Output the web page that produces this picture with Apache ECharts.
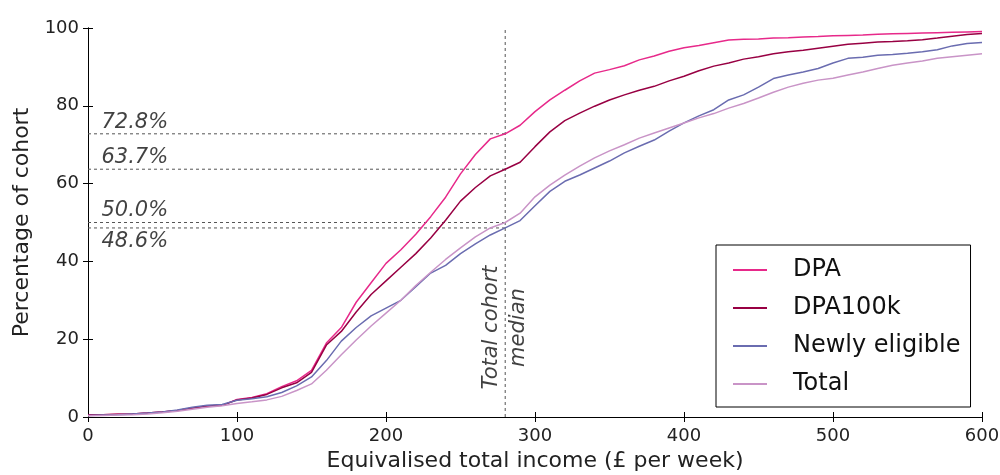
<!DOCTYPE html>
<html>
<head>
<meta charset="utf-8">
<script src="https://cdn.jsdelivr.net/npm/echarts@6/dist/echarts.min.js"></script>
<style>
  html, body { margin: 0; padding: 0; background: #fff; }
  #chart { width: 1000px; height: 475px; }
</style>
</head>
<body>
<div id="chart"></div>
<script>
// income (£ per week)
var income = [0, 10, 20, 30, 40, 50, 60, 70, 80, 90, 100, 110, 120, 130, 140, 150, 160, 170, 180, 190,
  200, 210, 220, 230, 240, 250, 260, 270, 280, 290, 300, 310, 320, 330, 340, 350, 360, 370, 380, 390,
  400, 410, 420, 430, 440, 450, 460, 470, 480, 490, 500, 510, 520, 530, 540, 550, 560, 570, 580, 590, 600];

// cumulative % of cohort
var dpa = [0.5, 0.6, 0.7, 0.8, 1.0, 1.3, 1.7, 2.3, 2.8, 3.0, 4.5, 5.0, 6.0, 7.8, 9.3, 12.0, 19.0, 23.0, 29.5, 34.5,
  39.5, 43.0, 47.0, 51.5, 56.5, 62.5, 67.5, 71.5, 72.8, 75.0, 78.5, 81.5, 84.0, 86.4, 88.4, 89.3, 90.3, 91.8, 92.8, 94.0,
  94.9, 95.5, 96.2, 96.9, 97.1, 97.2, 97.4, 97.5, 97.7, 97.8, 98.0, 98.1, 98.2, 98.4, 98.5, 98.6, 98.7, 98.8, 98.9, 99.0, 99.1];
var dpa100k = [0.5, 0.6, 0.7, 0.8, 1.0, 1.3, 1.7, 2.3, 2.8, 3.0, 4.4, 4.9, 5.8, 7.5, 8.8, 11.5, 18.5, 22.0, 27.0, 31.5,
  35.0, 38.5, 42.0, 46.0, 50.6, 55.5, 59.0, 62.0, 63.7, 65.5, 69.5, 73.3, 76.2, 78.1, 79.9, 81.5, 82.8, 84.0, 85.0, 86.4,
  87.6, 89.0, 90.2, 91.0, 92.0, 92.6, 93.4, 93.9, 94.3, 94.8, 95.3, 95.8, 96.1, 96.4, 96.5, 96.7, 97.0, 97.4, 97.9, 98.3, 98.6];
var newlyEligible = [0.4, 0.5, 0.6, 0.8, 1.0, 1.3, 1.8, 2.5, 3.0, 3.2, 4.3, 4.7, 5.2, 6.3, 8.0, 10.3, 14.5, 19.5, 23.0, 26.0,
  28.0, 30.0, 33.5, 37.0, 39.0, 42.0, 44.5, 46.8, 48.6, 50.5, 54.3, 58.0, 60.6, 62.2, 64.0, 65.8, 67.9, 69.6, 71.2, 73.5,
  75.6, 77.4, 79.0, 81.5, 82.8, 84.8, 87.0, 87.9, 88.7, 89.6, 91.0, 92.2, 92.5, 93.0, 93.2, 93.5, 93.9, 94.4, 95.4, 96.0, 96.3];
var total = [0.3, 0.4, 0.5, 0.6, 0.8, 1.1, 1.5, 2.0, 2.5, 2.9, 3.5, 3.9, 4.4, 5.3, 6.8, 8.5, 12.0, 16.0, 19.8, 23.4,
  26.7, 30.0, 33.8, 37.2, 40.5, 43.5, 46.3, 48.6, 50.0, 52.4, 56.6, 59.6, 62.2, 64.5, 66.6, 68.4, 70.0, 71.7, 73.0, 74.3,
  75.6, 76.9, 78.0, 79.4, 80.6, 82.0, 83.5, 84.8, 85.8, 86.6, 87.1, 87.9, 88.7, 89.6, 90.4, 91.0, 91.5, 92.2, 92.6, 93.0, 93.4];

var seriesNames = ['DPA', 'DPA100k', 'Newly eligible', 'Total'];
var seriesColors = ['#e7298a', '#980043', '#6a6cb0', '#c994c7'];

// median line and the shares below it
var medianIncome = 280;
var medianShares = [72.8, 63.7, 50.0, 48.6];
var shareLabelAbove = [true, true, true, false];

var xTicks = [0, 100, 200, 300, 400, 500, 600];
var yTicks = [0, 20, 40, 60, 80, 100];

function pair(xs, ys) {
  return xs.map(function (x, i) { return [x, ys[i]]; });
}

var font = 'DejaVu Sans';
var dashStyle = { color: '#555', width: 1, type: [3, 3] };

var series = [];
[dpa, dpa100k, newlyEligible, total].forEach(function (vals, i) {
  series.push({
    name: seriesNames[i],
    type: 'line',
    data: pair(income, vals),
    showSymbol: false,
    symbol: 'none',
    lineStyle: { width: 1.5, color: seriesColors[i] },
    itemStyle: { color: seriesColors[i] },
    z: 3
  });
});

// dashed guide lines
medianShares.forEach(function (s) {
  series.push({
    type: 'line', silent: true, symbol: 'none',
    data: [[xTicks[0], s], [medianIncome, s]],
    lineStyle: dashStyle, z: 2
  });
});
series.push({
  type: 'line', silent: true, symbol: 'none',
  data: [[medianIncome, yTicks[0]], [medianIncome, yTicks[yTicks.length - 1]]],
  lineStyle: dashStyle, z: 2
});

// share labels
series.push({
  type: 'scatter', silent: true, symbolSize: 0,
  data: medianShares.map(function (s, i) {
    return {
      value: [9, s],
      label: {
        position: shareLabelAbove[i] ? 'top' : 'bottom',
        distance: shareLabelAbove[i] ? 1 : 3
      }
    };
  }),
  label: {
    show: true, align: 'left',
    fontFamily: font, fontStyle: 'italic', fontSize: 21, color: '#111',
    formatter: function (p) { return p.value[1].toFixed(1) + '%'; }
  },
  z: 4
});

// median label
series.push({
  type: 'scatter', silent: true, symbolSize: 0,
  data: [[medianIncome, 23]],
  label: {
    show: true, position: 'inside', rotate: 90,
    align: 'center', verticalAlign: 'middle',
    fontFamily: font, fontStyle: 'italic', fontSize: 21, lineHeight: 27, color: '#111',
    formatter: 'Total cohort\nmedian'
  },
  z: 4
});

var axisLineStyle = { lineStyle: { color: '#000', width: 1 } };
var tickStyle = { show: true, inside: true, length: 5, lineStyle: { color: '#000', width: 1 } };

var chart = echarts.init(document.getElementById('chart'), null, { renderer: 'canvas' });
chart.setOption({
  animation: false,
  backgroundColor: '#fff',
  grid: { left: 88, right: 18, top: 28, bottom: 58, outerBoundsMode: 'none', containLabel: false },
  legend: {
    data: seriesNames,
    orient: 'vertical',
    left: 716, top: 245,
    padding: [13, 10, 11, 17],
    itemGap: 14,
    itemWidth: 34, itemHeight: 2,
    icon: 'rect',
    borderColor: '#000', borderWidth: 1,
    backgroundColor: '#fff',
    textStyle: { fontFamily: font, fontSize: 24, color: '#111', lineHeight: 22, padding: [0, 0, 0, 21] }
  },
  xAxis: [{
    type: 'value', min: 0, max: 600, interval: 100, position: 'bottom',
    name: 'Equivalised total income (£ per week)', nameLocation: 'middle', nameGap: 33,
    nameTextStyle: { fontFamily: font, fontSize: 22, color: '#222' },
    axisLine: axisLineStyle, axisTick: tickStyle,
    axisLabel: { fontFamily: font, fontSize: 18, color: '#222', margin: 10 },
    splitLine: { show: false }
  }, {
    type: 'value', min: 0, max: 600, interval: 100, position: 'top',
    axisLine: axisLineStyle, axisTick: tickStyle,
    axisLabel: { show: false }, splitLine: { show: false }
  }],
  yAxis: [{
    type: 'value', min: 0, max: 100, interval: 20, position: 'left',
    name: 'Percentage of cohort', nameLocation: 'middle', nameGap: 52,
    nameTextStyle: { fontFamily: font, fontSize: 22, color: '#222' },
    axisLine: axisLineStyle, axisTick: tickStyle,
    axisLabel: { fontFamily: font, fontSize: 18, color: '#222', margin: 9 },
    splitLine: { show: false }
  }, {
    type: 'value', min: 0, max: 100, interval: 20, position: 'right',
    axisLine: axisLineStyle, axisTick: tickStyle,
    axisLabel: { show: false }, splitLine: { show: false }
  }],
  series: series
});
</script>
</body>
</html>
